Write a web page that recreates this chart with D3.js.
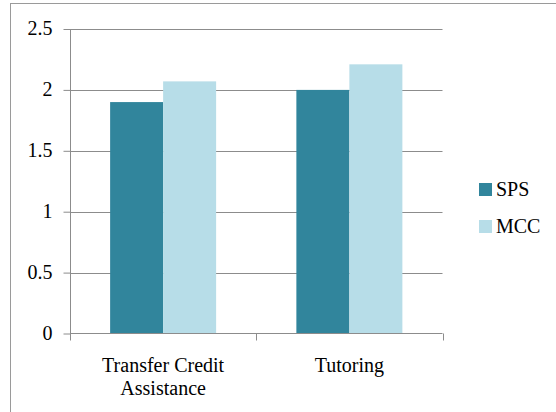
<!DOCTYPE html>
<html>
<head>
<meta charset="utf-8">
<script src="https://cdn.jsdelivr.net/npm/d3@7"></script>
</head>
<body style="margin:0">
<svg id="s" width="556" height="412"></svg>
<script>
// Service categories and the two respondent groups
const categories = ["Transfer Credit Assistance", "Tutoring"];
const categoryLines = [["Transfer Credit", "Assistance"], ["Tutoring"]];
const seriesNames = ["SPS", "MCC"];
const spsValues = [1.9, 2.0];
const mccValues = [2.07, 2.21];
const yTicks = [0, 0.5, 1, 1.5, 2, 2.5];
const colors = ["#31859c", "#b7dde8"];

const FONT = "Liberation Serif";
const svg = d3.select("#s");

// Outer chart frame (runs past the bottom/right of the view)
svg.append("rect")
  .attr("x", 10.5).attr("y", 3.5)
  .attr("width", 560).attr("height", 420)
  .attr("fill", "none").attr("stroke", "#9a9a9a").attr("stroke-width", 1);

const plot = { left: 70, right: 442.5, top: 29, bottom: 333.5 };

const x0 = d3.scaleBand().domain(categories).range([plot.left, plot.right]);
const barW = 53;
const x1 = d3.scaleBand().domain(seriesNames).range([0, barW * 2]);
const y = d3.scaleLinear().domain([0, 2.5]).range([plot.bottom, plot.top]);

// Horizontal gridlines
svg.append("g").selectAll("line")
  .data(yTicks.filter(t => t > 0))
  .join("line")
  .attr("x1", plot.left).attr("x2", plot.right)
  .attr("y1", d => Math.round(y(d)) + 0.5).attr("y2", d => Math.round(y(d)) + 0.5)
  .attr("stroke", "#8c8c8c").attr("stroke-width", 1);

// Bars
const groupOffset = (x0.bandwidth() - barW * 2) / 2;
const rows = categories.map((c, i) => ({ cat: c, vals: [spsValues[i], mccValues[i]] }));
const groups = svg.append("g").selectAll("g")
  .data(rows).join("g")
  .attr("transform", d => `translate(${x0(d.cat) + groupOffset},0)`);
groups.selectAll("rect")
  .data(d => d.vals.map((v, j) => ({ name: seriesNames[j], v, j })))
  .join("rect")
  .attr("x", d => x1(d.name))
  .attr("width", x1.bandwidth())
  .attr("y", d => y(d.v))
  .attr("height", d => plot.bottom - y(d.v))
  .attr("fill", d => colors[d.j]);

// Y axis line and tick marks (labels drawn separately below)
const yAxis = svg.append("g")
  .attr("transform", `translate(${plot.left + 0.5},0)`)
  .call(d3.axisLeft(y).tickValues(yTicks).tickFormat("").tickSize(7));
yAxis.select(".domain").attr("stroke", "#8c8c8c").attr("d", `M0,${plot.top}V${plot.bottom}`);
yAxis.selectAll(".tick line").attr("stroke", "#8c8c8c");
yAxis.selectAll(".tick text").remove();

// Y tick labels
svg.selectAll("text.ylab")
  .data(yTicks).join("text").attr("class", "ylab")
  .attr("x", plot.left - 17.5)
  .attr("y", d => y(d))
  .attr("dy", "0.32em")
  .attr("text-anchor", "end")
  .attr("font-size", 20)
  .style("font-family", FONT)
  .text(d => d3.format("")(d));

// X axis with boundary ticks between categories
const xAxisG = svg.append("g");
xAxisG.append("line")
  .attr("x1", plot.left).attr("x2", plot.right)
  .attr("y1", plot.bottom).attr("y2", plot.bottom)
  .attr("stroke", "#8c8c8c");
const boundaries = [plot.left, ...categories.map(c => x0(c) + x0.bandwidth())];
xAxisG.selectAll("line.tk")
  .data(boundaries).join("line").attr("class", "tk")
  .attr("x1", d => Math.round(d) + 0.5).attr("x2", d => Math.round(d) + 0.5)
  .attr("y1", plot.bottom).attr("y2", plot.bottom + 7)
  .attr("stroke", "#8c8c8c");

// Category labels
const catLabels = categories.flatMap((c, i) =>
  categoryLines[i].map((line, k) => ({ cx: x0(c) + x0.bandwidth() / 2, k, line })));
svg.selectAll("text.xlab")
  .data(catLabels).join("text").attr("class", "xlab")
  .attr("x", d => d.cx)
  .attr("y", d => 372 + d.k * 23)
  .attr("text-anchor", "middle")
  .attr("font-size", 20)
  .style("font-family", FONT)
  .text(d => d.line);

// Legend
svg.selectAll("rect.key")
  .data(seriesNames).join("rect").attr("class", "key")
  .attr("x", 479).attr("y", (d, i) => 183 + i * 37)
  .attr("width", 13).attr("height", 13)
  .attr("fill", (d, i) => colors[i]);
svg.selectAll("text.key")
  .data(seriesNames).join("text").attr("class", "key")
  .attr("x", 496).attr("y", (d, i) => 196 + i * 37)
  .attr("font-size", 20)
  .style("font-family", FONT)
  .text(d => d);
</script>
</body>
</html>
